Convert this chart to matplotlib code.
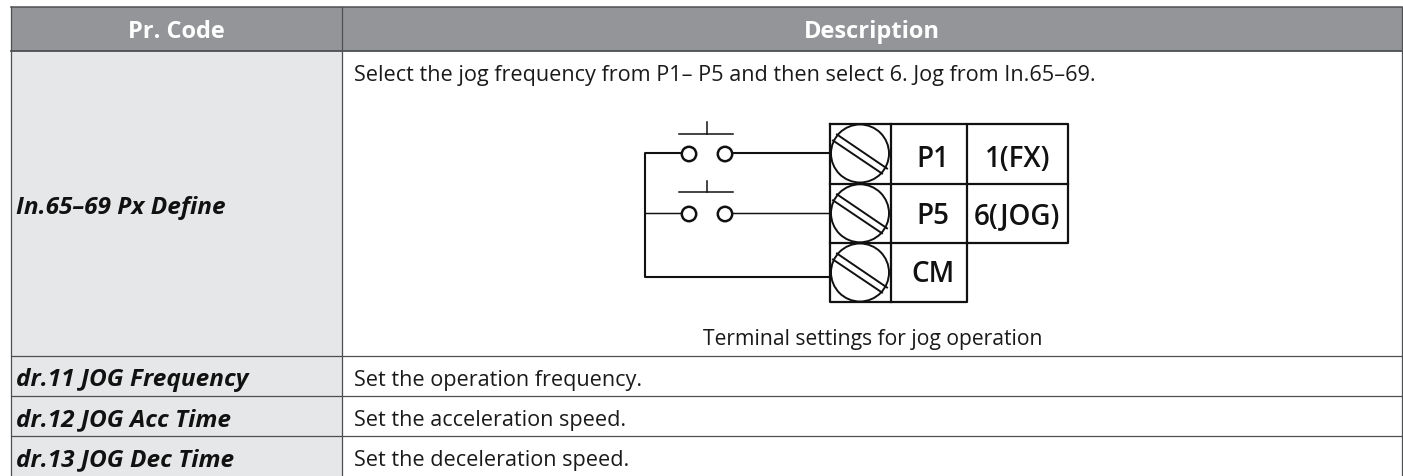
import matplotlib
matplotlib.use("Agg")
import matplotlib.pyplot as plt
from matplotlib.patches import Rectangle, Circle

headers = ["Pr. Code", "Description"]
codes = ["In.65–69 Px Define", "dr.11 JOG Frequency", "dr.12 JOG Acc Time", "dr.13 JOG Dec Time"]
descriptions = ["Select the jog frequency from P1– P5 and then select 6. Jog from In.65–69.",
                "Set the operation frequency.", "Set the acceleration speed.", "Set the deceleration speed."]
caption = "Terminal settings for jog operation"
terminal_names = ["P1", "P5", "CM"]
terminal_funcs = ["1(FX)", "6(JOG)", ""]

W, H = 1403, 477
fig = plt.figure(figsize=(W / 100, H / 100), dpi=100)
ax = fig.add_axes([0, 0, 1, 1])
ax.set_xlim(0, W)
ax.set_ylim(H, 0)
ax.axis("off")

FONT = "Open Sans"
DARK = "#4d4f52"
HEAD = "#939598"
CELL = "#e6e7e8"
INK = "#1a1a1a"
LEFT, SPLIT, RIGHT = 10.5, 341.5, 1401.5
TOP, HEAD_B = 7.5, 51.5
row_lines = [357, 397, 437]

ax.add_patch(Rectangle((LEFT, TOP), RIGHT - LEFT, HEAD_B - TOP, fc=HEAD, ec="none"))
ax.add_patch(Rectangle((LEFT, HEAD_B), SPLIT - LEFT, H - HEAD_B, fc=CELL, ec="none"))
ax.plot([LEFT, RIGHT], [TOP, TOP], color=DARK, lw=1.1)
ax.plot([LEFT, RIGHT], [HEAD_B, HEAD_B], color=DARK, lw=1.3)
for y in row_lines:
    ax.plot([LEFT, RIGHT], [y, y], color=DARK, lw=0.9)
for x in (LEFT, SPLIT, RIGHT):
    ax.plot([x, x], [TOP, H], color=DARK, lw=0.9)

ax.text((LEFT + SPLIT) / 2, 31.5, headers[0], color="white", fontsize=17, fontweight="bold",
        family=FONT, ha="center", va="center")
ax.text((SPLIT + RIGHT) / 2, 31.5, headers[1], color="white", fontsize=17, fontweight="bold",
        family=FONT, ha="center", va="center")

code_y = [208, 380.5, 420.5, 460.5]
desc_y = [75.5, 381, 421, 461]
for c, d, cy, dy in zip(codes, descriptions, code_y, desc_y):
    ax.text(16, cy, c, color="#111111", fontsize=17.6, fontweight="bold", style="italic",
            family=FONT, va="center", ha="left")
    ax.text(354, dy, d, color=INK, fontsize=15.6, family=FONT, va="center", ha="left")
ax.text(873, 340, caption, color=INK, fontsize=15.2, family=FONT, va="center", ha="center")

# Terminal block
LW = 1.6
K = "#111111"
bx = [830, 891, 967, 1068]
by = [125, 185, 244, 303]
ax.plot([bx[0], bx[2], bx[2], bx[0], bx[0]], [by[0], by[0], by[3], by[3], by[0]], color=K, lw=LW)
ax.plot([bx[2], bx[3], bx[3], bx[2]], [by[0], by[0], by[2], by[2]], color=K, lw=LW)
ax.plot([bx[0], bx[3]], [by[1], by[1]], color=K, lw=LW)
ax.plot([bx[0], bx[2]], [by[2], by[2]], color=K, lw=LW)
ax.plot([bx[1], bx[1]], [by[0], by[3]], color=K, lw=LW)

screw_y = [154.5, 214.3, 273.5]
name_y = [159.5, 216.5, 274.5]
func_x = [1018, 1017, 0]
for sy, ny, name, func, fx in zip(screw_y, name_y, terminal_names, terminal_funcs, func_x):
    ax.add_patch(Circle((860, sy), 29, fc="white", ec=K, lw=1.4, zorder=3))
    ax.plot([837, 887], [sy - 19, sy + 15], color=K, lw=1.4, zorder=4)
    ax.plot([833, 882], [sy - 13, sy + 20], color=K, lw=1.4, zorder=4)
    ax.text(933, ny, name, color=K, fontsize=20, family=FONT, fontweight="semibold", ha="center", va="center")
    if func:
        ax.text(fx, ny, func, color=K, fontsize=20, family=FONT, fontweight="semibold", ha="center", va="center")

# Wiring
ax.plot([830, 645, 645, 682], [278, 278, 154, 154], color=K, lw=1.5)
ax.plot([645, 682], [214, 214], color=K, lw=1.05)
for y, top, stem in [(154, 135, 123), (214, 193, 182)]:
    ax.plot([732, 830], [y, y], color=K, lw=1.5 if y == 154 else 1.05)
    ax.plot([679, 733], [top, top], color=K, lw=1.1)
    ax.plot([707, 707], [top, stem], color=K, lw=1.1)
    for cx in (689, 725):
        ax.add_patch(Circle((cx, y + 1), 7.2, fc="white", ec=K, lw=1.8, zorder=3))

fig.savefig("out.png", dpi=100)
